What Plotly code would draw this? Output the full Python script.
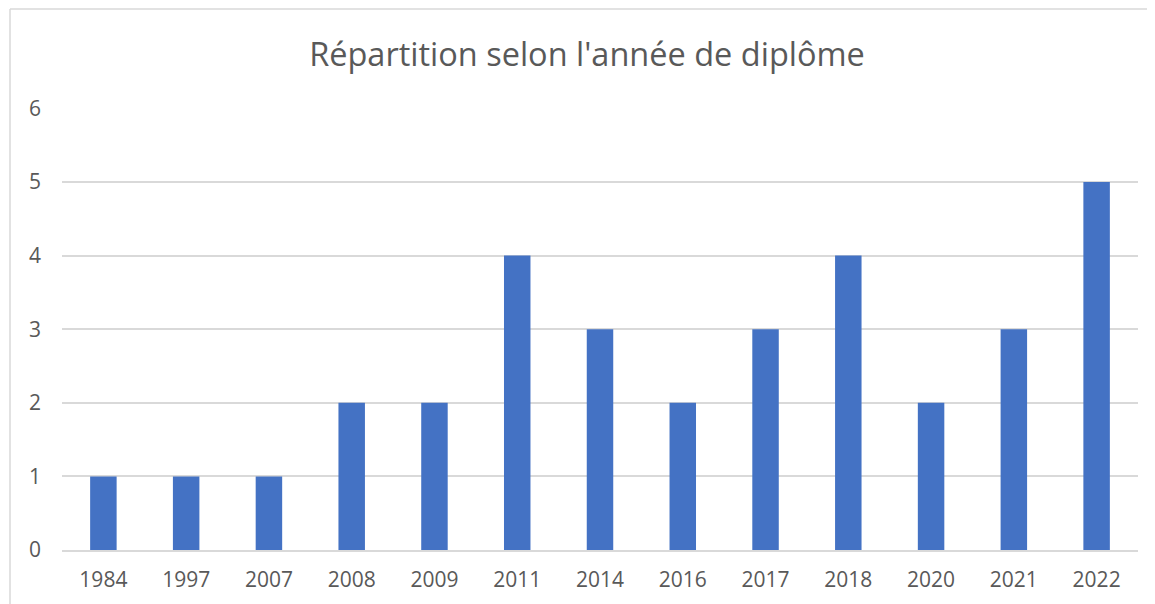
import plotly.graph_objects as go

years = ["1984", "1997", "2007", "2008", "2009", "2011", "2014",
         "2016", "2017", "2018", "2020", "2021", "2022"]
counts = [1, 1, 1, 2, 2, 4, 3, 2, 3, 4, 2, 3, 5]
y_ticks = [0, 1, 2, 3, 4, 5, 6]

# the page sits 8px in from the window corner
OFF = 8
W, H = 1155 - OFF, 604 - OFF
L, R, T, B = 62 - OFF, 17, 108 - OFF, 54
pw, ph = W - L - R, H - T - B

fig = go.Figure()
fig.add_trace(go.Bar(
    x=years,
    y=counts,
    marker=dict(color="#4472C4", line=dict(width=0)),
))

# chart border (only top and left edges visible in the frame)
bx = (10 - OFF - L) / pw
by = (H - B - (9 - OFF)) / ph
fig.add_shape(type="line", xref="paper", yref="paper",
              x0=bx, x1=1.2, y0=by, y1=by,
              line=dict(color="#D9D9D9", width=1.5))
fig.add_shape(type="line", xref="paper", yref="paper",
              x0=bx, x1=bx, y0=by, y1=-0.3,
              line=dict(color="#D9D9D9", width=1.5))

fig.update_layout(
    width=W,
    height=H,
    margin=dict(l=L, r=R, t=T, b=B),
    paper_bgcolor="white",
    plot_bgcolor="white",
    bargap=0.68,
    showlegend=False,
    font=dict(family="Open Sans", color="#595959", size=20),
    title=dict(
        text="Répartition selon l'année de diplôme",
        x=(587 - 62) / pw,
        xref="paper",
        xanchor="center",
        y=(H - (55 - OFF)) / H,
        yanchor="middle",
        font=dict(size=32.5, color="#595959"),
    ),
)
fig.update_xaxes(
    showgrid=False,
    showline=True,
    linecolor="#D9D9D9",
    linewidth=1.5,
    ticks="",
    ticklabelstandoff=10,
    tickfont=dict(size=21),
)
fig.update_yaxes(
    range=[0, 6.004],
    tickvals=y_ticks,
    showgrid=True,
    gridcolor="#D9D9D9",
    gridwidth=1.5,
    zeroline=False,
    ticks="",
    ticklabelstandoff=20,
    tickfont=dict(size=21),
)

fig.write_html("out.html")
